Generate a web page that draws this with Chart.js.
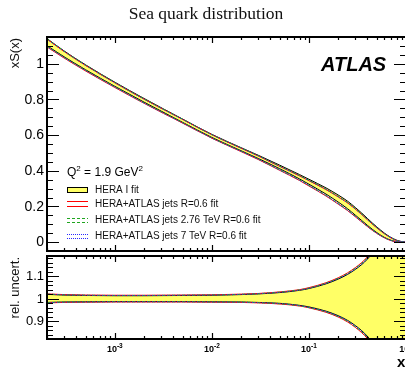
<!DOCTYPE html>
<html>
<head>
<meta charset="utf-8">
<script src="https://cdn.jsdelivr.net/npm/chart.js@4"></script>
<style>
  html, body { margin: 0; padding: 0; background: #fff; }
  #wrap { position: relative; width: 405px; height: 369px; overflow: hidden; background: #fff; }
  canvas { position: absolute; left: 0; }
  #main { top: 0; }
  #ratio { top: 253px; }
</style>
</head>
<body>
<div id="wrap">
  <canvas id="main" width="420" height="253"></canvas>
  <canvas id="ratio" width="420" height="116"></canvas>
</div>
<script>
// Momentum fraction grid shared by all fits
const xValues = [2e-4, 3e-4, 5e-4, 1e-3, 2e-3, 5e-3, 1e-2, 2e-2, 3e-2, 5e-2, 0.08, 0.1, 0.15, 0.2, 0.25, 0.3, 0.35, 0.4, 0.45, 0.5, 0.6, 0.7, 0.8, 0.9, 1.0];

// HERA I fit: central xS(x) and relative uncertainty (up / down)
const heraCentral = [1.12, 1.055, 0.98, 0.885, 0.795, 0.68, 0.595, 0.52, 0.477, 0.42, 0.365, 0.337, 0.285, 0.243, 0.207, 0.172, 0.141, 0.113, 0.089, 0.069, 0.038, 0.018, 0.0065, 0.0015, 0.0];
const heraUncUp   = [0.019, 0.016, 0.014, 0.013, 0.013, 0.014, 0.015, 0.018, 0.021, 0.027, 0.037, 0.045, 0.066, 0.087, 0.108, 0.130, 0.152, 0.176, 0.203, 0.235, 0.32, 0.45, 0.66, 1.0, 1.5];
const heraUncDown = [0.017, 0.015, 0.014, 0.013, 0.013, 0.013, 0.014, 0.015, 0.017, 0.021, 0.030, 0.037, 0.056, 0.076, 0.097, 0.120, 0.143, 0.168, 0.196, 0.228, 0.31, 0.44, 0.64, 0.97, 1.45];

// HERA + ATLAS jets R=0.6 fit
const jetsCentral = [1.115, 1.05, 0.975, 0.88, 0.79, 0.677, 0.592, 0.516, 0.472, 0.412, 0.357, 0.328, 0.275, 0.232, 0.197, 0.163, 0.133, 0.106, 0.083, 0.064, 0.035, 0.016, 0.0055, 0.001, 0.0];
const jetsUncUp   = [0.021, 0.018, 0.016, 0.015, 0.015, 0.016, 0.017, 0.020, 0.023, 0.030, 0.040, 0.049, 0.071, 0.093, 0.115, 0.138, 0.161, 0.186, 0.214, 0.247, 0.335, 0.47, 0.69, 1.04, 1.55];
const jetsUncDown = [0.019, 0.017, 0.016, 0.015, 0.015, 0.015, 0.016, 0.017, 0.019, 0.024, 0.033, 0.041, 0.061, 0.082, 0.104, 0.128, 0.152, 0.178, 0.207, 0.240, 0.325, 0.46, 0.67, 1.01, 1.5];

// HERA + ATLAS jets 2.76 TeV R=0.6 fit
const jets276Central = [1.118, 1.053, 0.978, 0.883, 0.792, 0.679, 0.593, 0.518, 0.474, 0.414, 0.36, 0.331, 0.278, 0.235, 0.2, 0.166, 0.136, 0.108, 0.085, 0.066, 0.036, 0.017, 0.006, 0.0012, 0.0];
const jets276UncUp   = [0.020, 0.017, 0.015, 0.014, 0.014, 0.015, 0.016, 0.019, 0.022, 0.029, 0.039, 0.047, 0.069, 0.091, 0.112, 0.135, 0.158, 0.182, 0.210, 0.242, 0.33, 0.46, 0.68, 1.02, 1.52];
const jets276UncDown = [0.018, 0.016, 0.015, 0.014, 0.014, 0.014, 0.015, 0.016, 0.018, 0.023, 0.032, 0.040, 0.059, 0.080, 0.101, 0.125, 0.148, 0.174, 0.202, 0.235, 0.32, 0.45, 0.66, 0.99, 1.48];

// HERA + ATLAS jets 7 TeV R=0.6 fit
const jets7Central = [1.116, 1.051, 0.976, 0.881, 0.79, 0.677, 0.592, 0.517, 0.473, 0.413, 0.358, 0.33, 0.276, 0.233, 0.198, 0.164, 0.134, 0.107, 0.084, 0.065, 0.0355, 0.0165, 0.0057, 0.001, 0.0];
const jets7UncUp   = [0.020, 0.017, 0.015, 0.014, 0.014, 0.015, 0.016, 0.019, 0.022, 0.028, 0.038, 0.046, 0.068, 0.089, 0.110, 0.132, 0.155, 0.179, 0.206, 0.238, 0.325, 0.455, 0.67, 1.01, 1.51];
const jets7UncDown = [0.018, 0.016, 0.015, 0.014, 0.014, 0.014, 0.015, 0.016, 0.018, 0.022, 0.031, 0.039, 0.058, 0.078, 0.099, 0.122, 0.146, 0.171, 0.199, 0.231, 0.315, 0.445, 0.65, 0.98, 1.46];

// Axis tick labels
const mainYTicks = [0, 0.2, 0.4, 0.6, 0.8, 1];
const ratioYTicks = [0.9, 1, 1.1];
const xTickPowers = [-3, -2, -1, 0];

const legendLabels = ['HERA I fit', 'HERA+ATLAS jets R=0.6 fit', 'HERA+ATLAS jets 2.76 TeV R=0.6 fit', 'HERA+ATLAS jets 7 TeV R=0.6 fit'];

const SANS = '"Liberation Sans", Arial, Helvetica, sans-serif';
const SERIF = '"Liberation Serif", "Times New Roman", serif';
const YELLOW = '#ffff66';
const RED = '#ff0000';
const GREEN = '#1fa51f';
const BLUE = '#2a2aff';

const pts = (vals) => xValues.map((x, i) => ({ x, y: vals[i] }));
const bandUp = (c, u) => c.map((v, i) => v * (1 + u[i]));
const bandDown = (c, d) => c.map((v, i) => v * (1 - d[i]));
const relUp = (u) => u.map(v => 1 + v);
const relDown = (d) => d.map(v => 1 - v);

function line(data, color, order, dash, extra) {
  return Object.assign({
    data: pts(data), borderColor: color, borderWidth: 1, borderDash: dash || [],
    pointRadius: 0, fill: false, order, cubicInterpolationMode: 'monotone'
  }, extra || {});
}

// Frame with inward ticks on all four sides, plus tick labels
function drawFrame(chart, cfg) {
  const { ctx, chartArea: a } = chart;
  const xs = chart.scales.x, ys = chart.scales.y;
  ctx.save();
  ctx.strokeStyle = '#000';
  ctx.lineWidth = 1.2;
  ctx.beginPath();
  const tickY = (v, len) => {
    const py = Math.round(ys.getPixelForValue(v)) + 0.5;
    ctx.moveTo(a.left, py); ctx.lineTo(a.left + len, py);
    ctx.moveTo(a.right, py); ctx.lineTo(a.right - len, py);
  };
  for (let v = cfg.yMinorStart; v <= ys.max + 1e-9; v += cfg.yMinorStep) {
    const r = Math.round(v * 1000) / 1000;
    if (r < ys.min - 1e-9) continue;
    const isMajor = cfg.yMajor.some(m => Math.abs(m - r) < 1e-6);
    tickY(r, isMajor ? 12 : 6);
  }
  for (let p = -4; p <= 0; p++) {
    for (let m = 1; m <= 9; m++) {
      const v = m * Math.pow(10, p);
      if (v < xs.min * 0.999 || v > xs.max * 1.001) continue;
      const px = Math.round(xs.getPixelForValue(v)) + 0.5;
      const len = m === 1 ? 6 : 3;
      ctx.moveTo(px, a.top); ctx.lineTo(px, a.top + len);
      ctx.moveTo(px, a.bottom); ctx.lineTo(px, a.bottom - len);
    }
  }
  ctx.stroke();
  ctx.lineWidth = 2;
  ctx.strokeRect(a.left, a.top, a.right - a.left, a.bottom - a.top);

  // y tick labels
  ctx.fillStyle = '#000';
  ctx.font = cfg.yFont + 'px ' + SANS;
  ctx.textAlign = 'right';
  ctx.textBaseline = 'middle';
  cfg.yMajor.forEach(v => ctx.fillText(String(v), a.left - 3, ys.getPixelForValue(v) + 0.5));

  // y title, aligned to the top end of the axis
  ctx.save();
  ctx.translate(cfg.yTitleX, a.top + 1);
  ctx.rotate(-Math.PI / 2);
  ctx.textAlign = 'right';
  ctx.textBaseline = 'middle';
  ctx.font = '13px ' + SANS;
  ctx.fillStyle = '#111';
  ctx.fillText(cfg.yTitle, 0, 0);
  ctx.restore();
  ctx.restore();
}

const mainFrame = {
  id: 'mainFrame',
  afterDraw(chart) {
    drawFrame(chart, { yMajor: mainYTicks, yMinorStart: -0.05, yMinorStep: 0.05, yFont: 14, yTitle: 'xS(x)', yTitleX: 15 });
    const { ctx } = chart;
    ctx.save();
    // title
    ctx.fillStyle = '#111';
    ctx.font = '17.5px ' + SERIF;
    ctx.textAlign = 'center';
    ctx.textBaseline = 'alphabetic';
    ctx.fillText('Sea quark distribution', 206, 19);
    // experiment label
    ctx.fillStyle = '#000';
    ctx.font = 'italic bold 20px ' + SANS;
    ctx.textAlign = 'left';
    ctx.fillText('ATLAS', 321, 71);
    // scale label Q^2
    ctx.font = '12px ' + SANS;
    let cx = 67;
    const base = 176;
    ctx.fillText('Q', cx, base); cx += ctx.measureText('Q').width;
    ctx.font = '8px ' + SANS; ctx.fillText('2', cx, base - 5); cx += ctx.measureText('2').width;
    ctx.font = '12px ' + SANS; ctx.fillText(' = 1.9 GeV', cx, base); cx += ctx.measureText(' = 1.9 GeV').width;
    ctx.font = '8px ' + SANS; ctx.fillText('2', cx, base - 5);

    // legend
    const lx0 = 67, lx1 = 88;
    ctx.fillStyle = YELLOW;
    ctx.fillRect(lx0, 187, lx1 - lx0, 5);
    ctx.strokeStyle = '#000'; ctx.lineWidth = 1;
    ctx.strokeRect(lx0 + 0.5, 187.5, lx1 - lx0 - 1, 5);
    const pair = (color, dash, y1, y2) => {
      ctx.strokeStyle = color; ctx.setLineDash(dash); ctx.lineWidth = 1;
      ctx.beginPath();
      ctx.moveTo(lx0, y1 + 0.5); ctx.lineTo(lx1, y1 + 0.5);
      ctx.moveTo(lx0, y2 + 0.5); ctx.lineTo(lx1, y2 + 0.5);
      ctx.stroke();
    };
    pair(RED, [], 201, 206);
    pair(GREEN, [3, 2], 218, 222);
    pair(BLUE, [1, 1], 234, 238);
    ctx.setLineDash([]);
    ctx.fillStyle = '#111';
    ctx.font = '10px ' + SANS;
    ctx.textBaseline = 'middle';
    const ly = [190, 204.5, 220.5, 236];
    legendLabels.forEach((t, i) => ctx.fillText(t, 95, ly[i]));
    ctx.restore();
  }
};

const ratioFrame = {
  id: 'ratioFrame',
  afterDraw(chart) {
    drawFrame(chart, { yMajor: ratioYTicks, yMinorStart: 0.82, yMinorStep: 0.02, yFont: 13, yTitle: 'rel. uncert.', yTitleX: 15 });
    const { ctx, chartArea: a } = chart;
    const xs = chart.scales.x;
    ctx.save();
    ctx.fillStyle = '#000';
    ctx.textBaseline = 'alphabetic';
    xTickPowers.forEach(p => {
      const px = xs.getPixelForValue(Math.pow(10, p));
      const exp = p === 0 ? '0' : '-' + Math.abs(p);
      ctx.font = 'bold 9px ' + SANS;
      const w1 = ctx.measureText('10').width;
      ctx.font = 'bold 6.5px ' + SANS;
      const w2 = ctx.measureText(exp).width;
      const start = px - (w1 + w2) / 2;
      ctx.font = 'bold 9px ' + SANS;
      ctx.textAlign = 'left';
      ctx.fillText('10', start, a.bottom + 13);
      ctx.font = 'bold 6.5px ' + SANS;
      ctx.fillText(exp, start + w1, a.bottom + 8.5);
    });
    ctx.font = 'bold 15px ' + SANS;
    ctx.textAlign = 'left';
    ctx.fillText('x', 397, a.bottom + 28);
    ctx.restore();
  }
};

const xScale = { type: 'logarithmic', min: 2e-4, max: 1, display: false };

new Chart(document.getElementById('main'), {
  type: 'line',
  data: {
    datasets: [
      line(bandUp(heraCentral, heraUncUp), '#000', 10, [], { fill: '+1', backgroundColor: YELLOW }),
      line(bandDown(heraCentral, heraUncDown), '#000', 9),
      line(bandUp(jetsCentral, jetsUncUp), RED, 4),
      line(bandDown(jetsCentral, jetsUncDown), RED, 4),
      line(bandUp(jets276Central, jets276UncUp), GREEN, 3, [3, 2]),
      line(bandDown(jets276Central, jets276UncDown), GREEN, 3, [3, 2]),
      line(bandUp(jets7Central, jets7UncUp), BLUE, 2, [1, 1.5]),
      line(bandDown(jets7Central, jets7UncDown), BLUE, 2, [1, 1.5])
    ]
  },
  options: {
    responsive: false, animation: false, events: [],
    layout: { padding: { left: 47, right: 14, top: 37, bottom: 2 } },
    plugins: { legend: { display: false }, tooltip: { enabled: false } },
    scales: { x: xScale, y: { min: -0.05, max: 1.15, display: false } }
  },
  plugins: [mainFrame]
});

new Chart(document.getElementById('ratio'), {
  type: 'line',
  data: {
    datasets: [
      line(relUp(heraUncUp), '#000', 10, [], { fill: '+1', backgroundColor: YELLOW }),
      line(relDown(heraUncDown), '#000', 9),
      line(relUp(jetsUncUp), RED, 4),
      line(relDown(jetsUncDown), RED, 4),
      line(relUp(jets276UncUp), GREEN, 3, [3, 2]),
      line(relDown(jets276UncDown), GREEN, 3, [3, 2]),
      line(relUp(jets7UncUp), BLUE, 2, [1, 1.5]),
      line(relDown(jets7UncDown), BLUE, 2, [1, 1.5])
    ]
  },
  options: {
    responsive: false, animation: false, events: [],
    layout: { padding: { left: 47, right: 14, top: 3, bottom: 30 } },
    plugins: { legend: { display: false }, tooltip: { enabled: false } },
    scales: { x: xScale, y: { min: 0.82, max: 1.19, display: false } }
  },
  plugins: [ratioFrame]
});
</script>
</body>
</html>
